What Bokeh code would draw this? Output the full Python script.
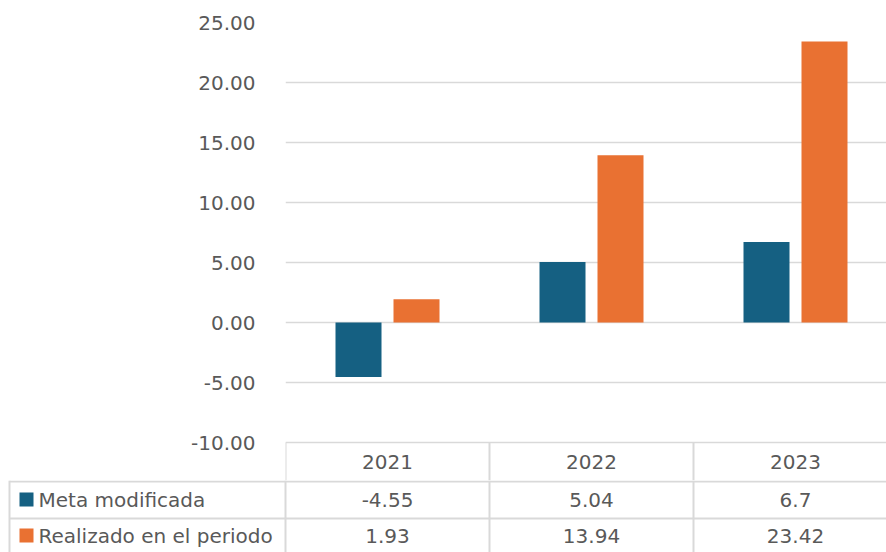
import numpy as np
from bokeh.plotting import figure
from bokeh.models import Range1d, FixedTicker, NumeralTickFormatter
from bokeh.embed import file_html
from bokeh.resources import INLINE
from bokeh.core.properties import value

# ---- data ----
years = ["2021", "2022", "2023"]
meta = [-4.55, 5.04, 6.7]
realizado = [1.93, 13.94, 23.42]
meta_labels = ["-4.55", "5.04", "6.7"]
real_labels = ["1.93", "13.94", "23.42"]
series_names = ["Meta modificada", "Realizado en el periodo"]
y_ticks = [-10, -5, 0, 5, 10, 15, 20, 25]

# ---- style ----
BLUE = "#156082"
ORANGE = "#E97132"
TXT = "#595959"
GRID = "#D9D9D9"
FONT = "DejaVu Sans"
FS = "20px"

W = 886
CAT_PX = 204.0
FRAME_LEFT = 285
vis_cats = (W - FRAME_LEFT) / CAT_PX
PX_PER_UNIT = 12.0
ROW = 38.0  # table row height in px

x = np.arange(len(years)) + 0.5
bw = 46 / CAT_PX
off = 29 / CAT_PX
y_lo = min(y_ticks)
y_hi = max(y_ticks)
hdr_units = ROW / PX_PER_UNIT

# chart + header row of the data table
p = figure(width=W, height=442 + int(ROW), x_range=Range1d(0, vis_cats),
           y_range=Range1d(y_lo - hdr_units, y_hi),
           output_backend="svg", toolbar_location=None, x_axis_location=None,
           min_border_left=FRAME_LEFT, min_border_right=0, min_border_top=22,
           min_border_bottom=0)
p.outline_line_color = None
p.background_fill_color = "white"
p.border_fill_color = "white"
p.xgrid.visible = False
p.ygrid.ticker = FixedTicker(ticks=y_ticks)
p.ygrid.grid_line_color = GRID
p.ygrid.grid_line_width = 1.5
p.yaxis.ticker = FixedTicker(ticks=y_ticks)
p.yaxis.formatter = NumeralTickFormatter(format="0.00")
p.yaxis.axis_line_color = None
p.yaxis.major_tick_line_color = None
p.yaxis.minor_tick_line_color = None
p.yaxis.major_label_standoff = 24
p.yaxis.major_label_text_font = FONT
p.yaxis.major_label_text_font_size = FS
p.yaxis.major_label_text_color = TXT

p.vbar(x=x - off, top=meta, bottom=0, width=bw, fill_color=BLUE, line_color=None)
p.vbar(x=x + off, top=realizado, bottom=0, width=bw, fill_color=ORANGE, line_color=None)

txt_kw = dict(text_font=value(FONT), text_font_size=value(FS), text_color=TXT,
              text_baseline="middle")

# header row: column separators and year labels
cx = list(np.arange(len(years) + 1))
p.segment(x0=cx, y0=[y_lo] * len(cx), x1=cx, y1=[y_lo - hdr_units] * len(cx),
          line_color=GRID, line_width=2)
p.text(x=x, y=[y_lo - hdr_units / 2] * len(years), text=years, text_align="center", **txt_kw)

# ---- data table body ----
TH = 552 - 442 - int(ROW)
r_top = 1.0
r_bot = 1.0 + TH / ROW
t = figure(width=W, height=TH, x_range=Range1d(-FRAME_LEFT / CAT_PX, vis_cats),
           y_range=Range1d(r_bot, r_top), output_backend="svg", toolbar_location=None,
           x_axis_location=None, y_axis_location=None,
           min_border_left=0, min_border_right=0, min_border_top=0, min_border_bottom=0)
t.outline_line_color = None
t.xgrid.visible = False
t.ygrid.visible = False
t.background_fill_color = "white"
t.border_fill_color = "white"

left = -FRAME_LEFT / CAT_PX + 9 / CAT_PX
eps = 1 / ROW

# horizontal lines
t.segment(x0=[left, left], y0=[1 + eps, 2], x1=[vis_cats] * 2, y1=[1 + eps, 2],
          line_color=GRID, line_width=2)
# vertical lines
vx = cx + [left]
t.segment(x0=vx, y0=[r_top] * len(vx), x1=vx, y1=[r_bot] * len(vx),
          line_color=GRID, line_width=2)

t.text(x=x, y=[1.5] * len(years), text=meta_labels, text_align="center", **txt_kw)
t.text(x=x, y=[2.45] * len(years), text=real_labels, text_align="center", **txt_kw)

t.text(x=[left + 29 / CAT_PX] * 2, y=[1.5, 2.45], text=series_names, text_align="left", **txt_kw)
t.scatter(x=[left + 17 / CAT_PX] * 2, y=[1.5, 2.45], marker="square", size=14,
          fill_color=[BLUE, ORANGE], line_color=None)

open("out.html", "w").write(file_html([p, t], INLINE))
